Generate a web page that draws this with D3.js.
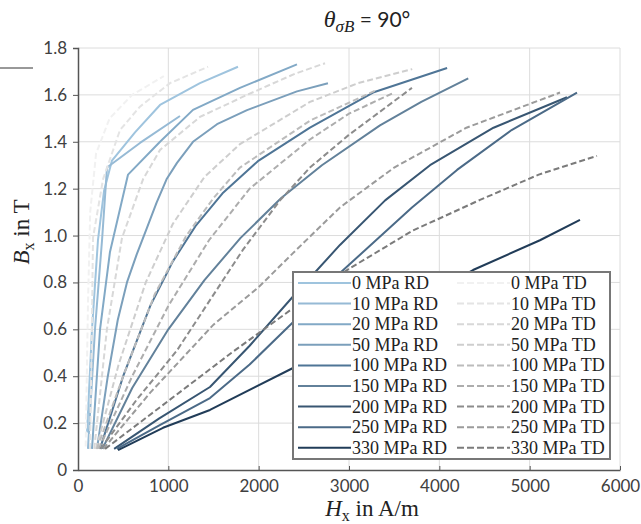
<!DOCTYPE html>
<html>
<head>
<meta charset="utf-8">
<script src="https://cdn.jsdelivr.net/npm/d3@7"></script>
<style>
  body { margin: 0; background: #fff; }
  svg { display: block; }
  .tick text { font-family: Lato, "Open Sans", sans-serif; font-size: 17px; fill: #404040; }
  .serif { font-family: "Liberation Serif", "DejaVu Serif", serif; fill: #222; }
</style>
</head>
<body>
<svg width="641" height="524"></svg>
<script>
// curve data: [H in A/m, B in T]
const rd0   = [[100,0.16],[155,0.6],[221,0.98],[288,1.19],[376,1.32],[631,1.44],[908,1.557],[1350,1.65],[1771,1.72]];
const rd10  = [[110,0.09],[188,0.6],[266,0.98],[321,1.29],[686,1.395],[1129,1.51]];
const rd20  = [[155,0.09],[244,0.6],[354,0.93],[554,1.26],[908,1.40],[1273,1.536],[1793,1.63],[2424,1.73]];
const rd50  = [[210,0.09],[330,0.4],[440,0.64],[542,0.8],[650,0.92],[760,1.03],[870,1.14],[980,1.24],[1096,1.31],[1273,1.40],[1539,1.475],[1871,1.535],[2424,1.615],[2767,1.65]];
const rd100 = [[243,0.09],[500,0.4],[800,0.7],[1050,0.89],[1300,1.04],[1600,1.18],[2000,1.32],[2568,1.46],[3266,1.61],[4086,1.715]];
const rd150 = [[270,0.09],[600,0.35],[1000,0.6],[1400,0.81],[1800,0.99],[2250,1.16],[2700,1.3],[3343,1.47],[3800,1.57],[4320,1.67]];
const rd200 = [[400,0.09],[900,0.22],[1461,0.354],[1900,0.53],[2380,0.74],[2900,0.96],[3400,1.15],[3897,1.3],[4600,1.46],[5413,1.59]];
const rd250 = [[430,0.09],[900,0.19],[1461,0.307],[1900,0.45],[2380,0.63],[2900,0.84],[3697,1.12],[4196,1.28],[4800,1.45],[5524,1.61]];
const rd330 = [[443,0.085],[941,0.18],[1461,0.256],[2380,0.435],[3400,0.65],[4373,0.853],[5114,0.98],[5557,1.067]];

const td0   = [[85,0.1],[110,0.7],[135,1.1],[200,1.35],[350,1.5],[600,1.6],[950,1.68]];
const td10  = [[133,0.09],[150,0.5],[166,0.99],[277,1.24],[465,1.45],[686,1.55],[1018,1.65],[1440,1.72]];
const td20  = [[180,0.09],[320,0.6],[487,0.99],[720,1.24],[908,1.365],[1350,1.506],[1871,1.60],[2400,1.69],[2735,1.735]];
const td50  = [[200,0.09],[450,0.45],[750,0.8],[1050,1.05],[1400,1.25],[1793,1.39],[2568,1.57],[3100,1.65],[3700,1.71]];
const td100 = [[210,0.09],[500,0.4],[850,0.75],[1200,1.0],[1500,1.16],[1793,1.29],[2568,1.49],[3300,1.62]];
const td150 = [[230,0.09],[600,0.4],[1000,0.7],[1450,0.98],[1900,1.2],[2568,1.41],[3000,1.52],[3500,1.61]];
const td200 = [[250,0.09],[650,0.3],[1096,0.51],[1827,0.94],[2236,1.15],[2568,1.29],[3000,1.43],[3697,1.63]];
const td250 = [[280,0.09],[800,0.33],[1500,0.62],[2000,0.78],[2380,0.925],[2900,1.12],[3500,1.29],[4300,1.46],[5336,1.61]];
const td330 = [[300,0.09],[1018,0.3],[1700,0.5],[2380,0.69],[2978,0.853],[3700,1.02],[4450,1.152],[5100,1.26],[5745,1.34]];

const stresses = ["0", "10", "20", "50", "100", "150", "200", "250", "330"];
const rdData = [rd0, rd10, rd20, rd50, rd100, rd150, rd200, rd250, rd330];
const tdData = [td0, td10, td20, td50, td100, td150, td200, td250, td330];

const xTicks = [0, 1000, 2000, 3000, 4000, 5000, 6000];
const yTicks = [0, 0.2, 0.4, 0.6, 0.8, 1.0, 1.2, 1.4, 1.6, 1.8];

// line colours, light to dark
const rdColors = ["#9fc4de", "#96bad5", "#82a9c6", "#7b9fbb", "#4f7596", "#62819a", "#385672", "#4b6a87", "#213c58"];
const tdColors = ["#f1f1f1", "#e4e4e4", "#d8d8d8", "#cecece", "#bcbcbc", "#adadad", "#8c8c8c", "#9b9b9b", "#7b7b7b"];

// chart dimensions
const margin = { top: 48, right: 21, bottom: 54, left: 78 };
const width = 641 - margin.left - margin.right;
const height = 524 - margin.top - margin.bottom;

const x = d3.scaleLinear().domain([0, 6000]).range([0, width]);
const y = d3.scaleLinear().domain([0, 1.8]).range([height, 0]);

const svgRoot = d3.select("svg");
const svg = svgRoot.append("g")
  .attr("transform", "translate(" + margin.left + "," + margin.top + ")");

// grid
svg.append("g")
  .selectAll("line")
  .data(xTicks.slice(1))
  .enter()
  .append("line")
  .attr("x1", d => x(d)).attr("x2", d => x(d))
  .attr("y1", 0).attr("y2", height)
  .attr("stroke", "#dcdcdc").attr("stroke-width", 1);
svg.append("g")
  .selectAll("line")
  .data(yTicks.slice(1))
  .enter()
  .append("line")
  .attr("x1", 0).attr("x2", width)
  .attr("y1", d => y(d)).attr("y2", d => y(d))
  .attr("stroke", "#dcdcdc").attr("stroke-width", 1);

// axes
const bottomAxis = svg.append("g")
  .attr("transform", "translate(0," + height + ")")
  .call(d3.axisBottom(x).tickValues(xTicks).tickSizeInner(-4).tickSizeOuter(0).tickPadding(10)
    .tickFormat(d3.format("d")));
const leftAxis = svg.append("g")
  .call(d3.axisLeft(y).tickValues(yTicks).tickSizeOuter(0).tickSize(5).tickPadding(6)
    .tickFormat(d => d === 0 ? "0" : d3.format(".1f")(d)));
[bottomAxis, leftAxis].forEach(a => {
  a.select(".domain").attr("stroke", "#555").attr("stroke-width", 1.5);
  a.selectAll(".tick line").attr("stroke", "#555");
});

// curves
const line = d3.line()
  .x(d => x(d[0]))
  .y(d => y(d[1]));

svg.append("g")
  .selectAll("path")
  .data(rdData)
  .enter()
  .append("path")
  .attr("d", line)
  .attr("fill", "none")
  .attr("stroke", (d, i) => rdColors[i])
  .attr("stroke-width", 2)
  .attr("stroke-linejoin", "round");

svg.append("g")
  .selectAll("path")
  .data(tdData)
  .enter()
  .append("path")
  .attr("d", line)
  .attr("fill", "none")
  .attr("stroke", (d, i) => tdColors[i])
  .attr("stroke-width", 2)
  .attr("stroke-dasharray", "6,3");

// legend
const legend = svgRoot.append("g").attr("transform", "translate(293,272)");
legend.append("rect")
  .attr("width", 317).attr("height", 187)
  .attr("fill", "#fff")
  .attr("stroke", "#777").attr("stroke-width", 2);
const row = legend.selectAll("g")
  .data(stresses)
  .enter()
  .append("g")
  .attr("transform", (d, i) => "translate(0," + (11 + i * 20.6) + ")");
row.append("line")
  .attr("x1", 5).attr("x2", 58)
  .attr("stroke", (d, i) => rdColors[i]).attr("stroke-width", 2);
row.append("text")
  .attr("class", "serif")
  .attr("x", 59).attr("y", 6)
  .style("font-size", "18px")
  .text(d => d + " MPa RD");
row.append("line")
  .attr("x1", 164).attr("x2", 217)
  .attr("stroke", (d, i) => tdColors[i]).attr("stroke-width", 2)
  .attr("stroke-dasharray", "7,3");
row.append("text")
  .attr("class", "serif")
  .attr("x", 218).attr("y", 6)
  .style("font-size", "18px")
  .text(d => d + " MPa TD");

// axis titles
const xTitle = svgRoot.append("text")
  .attr("class", "serif")
  .attr("x", 372).attr("y", 516)
  .attr("text-anchor", "middle")
  .style("font-size", "23px");
xTitle.append("tspan").style("font-style", "italic").text("H");
xTitle.append("tspan").attr("dy", 5).style("font-size", "16px").text("x");
xTitle.append("tspan").attr("dy", -5).text(" in A/m");

const yTitle = svgRoot.append("text")
  .attr("class", "serif")
  .attr("transform", "translate(29,232) rotate(-90)")
  .attr("text-anchor", "middle")
  .style("font-size", "23px");
yTitle.append("tspan").style("font-style", "italic").text("B");
yTitle.append("tspan").attr("dy", 5).style("font-size", "16px").text("x");
yTitle.append("tspan").attr("dy", -5).text(" in T");

// title
const title = svgRoot.append("text")
  .attr("x", 367).attr("y", 27)
  .attr("text-anchor", "middle")
  .style("font-family", "Lato, sans-serif")
  .style("font-size", "21px")
  .attr("fill", "#222");
title.append("tspan").style("font-style", "italic").style("font-family", "'Liberation Serif', serif").style("font-size", "24px").text("θ");
title.append("tspan").attr("dy", 5).style("font-style", "italic").style("font-family", "'Liberation Serif', serif").style("font-size", "17px").text("σB");
title.append("tspan").attr("dy", -5).text(" = 90°");

// short rule at the left edge
svgRoot.append("line")
  .attr("x1", 0).attr("x2", 33)
  .attr("y1", 68).attr("y2", 68)
  .attr("stroke", "#333").attr("stroke-width", 1);
</script>
</body>
</html>
